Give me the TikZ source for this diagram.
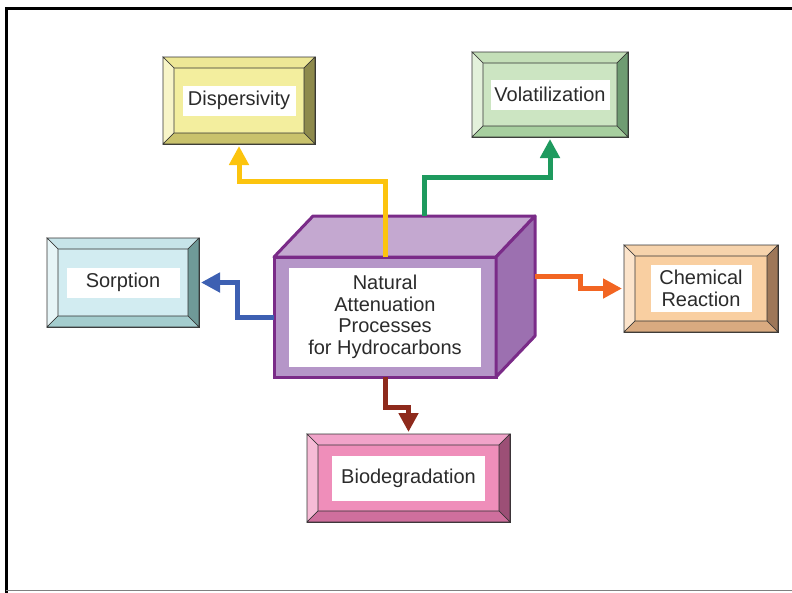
\documentclass[tikz,border=0pt]{standalone}
\usepackage{fontspec}
\setmainfont{Liberation Sans}
\usetikzlibrary{arrows.meta}

% box colours: face, bevels
\definecolor{dispface}{HTML}{F3EE9E}
\definecolor{disptop}{HTML}{EDE796}
\definecolor{displeft}{HTML}{F8F5C8}
\definecolor{dispright}{HTML}{8E8A4C}
\definecolor{dispbottom}{HTML}{C9C26C}
\definecolor{volface}{HTML}{CCE5C2}
\definecolor{voltop}{HTML}{C4DFB8}
\definecolor{volleft}{HTML}{E3F1DB}
\definecolor{volright}{HTML}{6F9C72}
\definecolor{volbottom}{HTML}{A7CF9F}
\definecolor{sorpface}{HTML}{D2ECF1}
\definecolor{sorptop}{HTML}{C7E4E9}
\definecolor{sorpleft}{HTML}{E7F5F7}
\definecolor{sorpright}{HTML}{6F9A98}
\definecolor{sorpbottom}{HTML}{A4CDCE}
\definecolor{chemface}{HTML}{F9CFA1}
\definecolor{chemtop}{HTML}{F6D3AC}
\definecolor{chemleft}{HTML}{FCE4CB}
\definecolor{chemright}{HTML}{9E7758}
\definecolor{chembottom}{HTML}{D9AA80}
\definecolor{bioface}{HTML}{EF8EBA}
\definecolor{biotop}{HTML}{F1A3C9}
\definecolor{bioleft}{HTML}{F6BBD6}
\definecolor{bioright}{HTML}{9C4F76}
\definecolor{biobottom}{HTML}{CF6F9D}
% cube and arrows
\definecolor{cubeline}{HTML}{7A2B88}
\definecolor{cubefront}{HTML}{B596C8}
\definecolor{cubetop}{HTML}{C4A8D0}
\definecolor{cuberight}{HTML}{9C70B0}
\definecolor{edgegray}{HTML}{333333}
\definecolor{textgray}{HTML}{2B2B2B}
\definecolor{flowyellow}{HTML}{FCC40E}
\definecolor{flowgreen}{HTML}{1E9A5E}
\definecolor{flowblue}{HTML}{3D60B2}
\definecolor{floworange}{HTML}{F26522}
\definecolor{flowbrown}{HTML}{8E2A1C}

% bevels round a box node, colours named after the node
\newcommand{\bevels}[1]{%
  \filldraw[edge, fill=#1top] (#1.north west) -- (#1.north east) -- ([shift={(-11,11)}]#1.north east) -- ([shift={(11,11)}]#1.north west) -- cycle;
  \filldraw[edge, fill=#1left] (#1.north west) -- ([shift={(11,11)}]#1.north west) -- ([shift={(11,-11)}]#1.south west) -- (#1.south west) -- cycle;
  \filldraw[edge, fill=#1right] (#1.north east) -- (#1.south east) -- ([shift={(-11,-11)}]#1.south east) -- ([shift={(-11,11)}]#1.north east) -- cycle;
  \filldraw[edge, fill=#1bottom] (#1.south west) -- ([shift={(11,-11)}]#1.south west) -- ([shift={(-11,-11)}]#1.south east) -- (#1.south east) -- cycle;
}

\begin{document}
\begin{tikzpicture}[
        x=1pt, y=-1pt,
        edge/.style={draw=edgegray, line width=0.6pt},
        boxframe/.style={edge, outer sep=0pt, inner sep=0pt},
        label/.style={fill=white, inner sep=0pt, align=center, text=textgray,
            font=\fontsize{20}{22}\selectfont},
        flow/.style={line width=5pt, -{Triangle[length=19pt,width=19pt]}, shorten >=2pt}
    ]
        \useasboundingbox (0,0) rectangle (792,592);
        
        % Outer frame
        \draw[line width=3pt] (6,600) -- (6,8) -- (800,8);
        \draw[gray, line width=1.5pt] (6,590.5) -- (800,590.5);
        
        % Process boxes
        \node[boxframe, fill=dispface, minimum width=152, minimum height=87] (disp) at (239,100.5) {};
        \node[boxframe, fill=volface, minimum width=156, minimum height=85] (vol) at (550,94.5) {};
        \node[boxframe, fill=sorpface, minimum width=152, minimum height=89] (sorp) at (123,282.5) {};
        \node[boxframe, fill=chemface, minimum width=154, minimum height=87] (chem) at (701,288.5) {};
        \node[boxframe, fill=bioface, minimum width=203, minimum height=88] (bio) at (408.5,478) {};
        \foreach \n in {disp,vol,sorp,chem,bio} {
            \bevels{\n}
        }
        
        % Labels
        \node[label, minimum width=113, minimum height=30] (displ) at (disp) {Dispersivity};
        \node[label, minimum width=119, minimum height=30] (voll) at (vol) {Volatilization};
        \node[label, minimum width=113, minimum height=30] (sorpl) at (sorp) {Sorption};
        \node[label, minimum width=101, minimum height=47] (cheml) at (chem) {Chemical\\Reaction};
        \node[label, minimum width=153, minimum height=45] (biol) at (bio) {Biodegradation};
        
        % Central cube
        \node[draw=cubeline, line width=3pt, fill=cubefront, outer sep=0pt,
            minimum width=222, minimum height=120] (nap) at (385,317) {};
        \filldraw[draw=cubeline, line width=3pt, fill=cubetop, line join=round]
            (nap.north west) -- ([shift={(39,-41)}]nap.north west)
            -- ([shift={(39,-41)}]nap.north east) -- (nap.north east) -- cycle;
        \filldraw[draw=cubeline, line width=3pt, fill=cuberight, line join=round]
            (nap.north east) -- ([shift={(39,-41)}]nap.north east)
            -- ([shift={(39,-41)}]nap.south east) -- (nap.south east) -- cycle;
        \node[label, minimum width=192, minimum height=99, font=\fontsize{20}{21.5}\selectfont]
            (napl) at (nap) {Natural\\Attenuation\\Processes\\for Hydrocarbons};
        
        % Connections from the cube
        \draw[flow, flowyellow] (nap.north) -- ++(0,-76) -| (disp.south);
        \draw[flow, flowgreen] ([shift={(39,-41)}]nap.north) -- ++(0,-39) -| (vol.south);
        \draw[flow, flowblue] (nap.west) -- ++(-37,0) |- (sorp.east);
        \draw[flow, floworange] ([shift={(39,-41)}]nap.east) -- ++(45,0) |- (chem.west);
        \draw[flow, flowbrown] (nap.south) -- ++(0,30) -| (bio.north);
\end{tikzpicture}
\end{document}
